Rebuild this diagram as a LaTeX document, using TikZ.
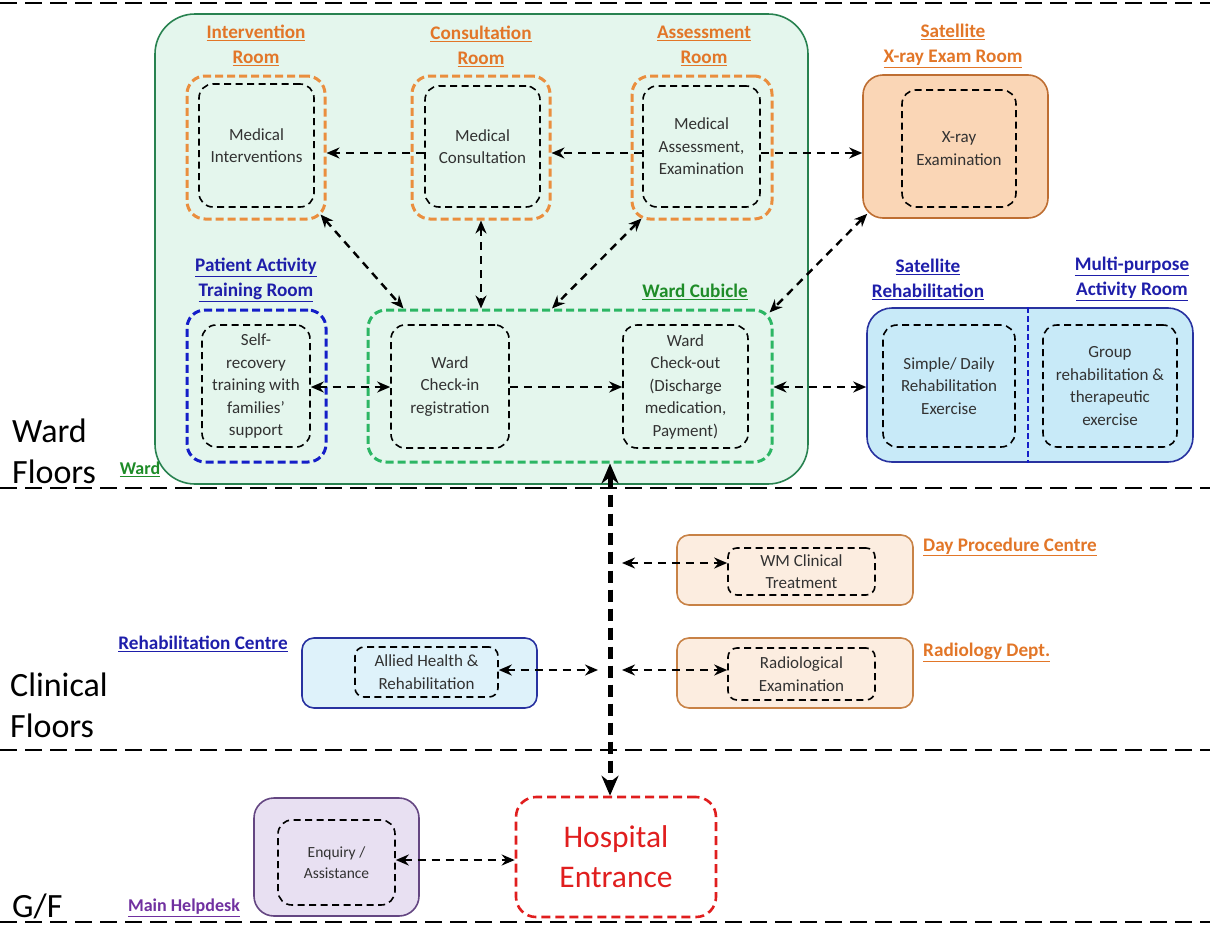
\documentclass[tikz,border=0pt]{standalone}
\usepackage{fontspec}
\setmainfont{Carlito}
\usetikzlibrary{arrows.meta}

\definecolor{roomor}{RGB}{234,142,62}
\definecolor{titleor}{RGB}{226,118,40}
\definecolor{wardfill}{RGB}{228,246,237}
\definecolor{wardline}{RGB}{40,130,80}
\definecolor{cubgreen}{RGB}{44,182,100}
\definecolor{cubtext}{RGB}{30,140,40}
\definecolor{deepblue}{RGB}{30,30,170}
\definecolor{dashblue}{RGB}{20,30,200}
\definecolor{xrayfill}{RGB}{250,214,182}
\definecolor{xrayline}{RGB}{190,110,50}
\definecolor{dayfill}{RGB}{252,237,224}
\definecolor{dayline}{RGB}{200,130,70}
\definecolor{rehabfill}{RGB}{200,234,248}
\definecolor{rehabline}{RGB}{40,50,160}
\definecolor{rcfill}{RGB}{222,242,250}
\definecolor{helpfill}{RGB}{232,224,242}
\definecolor{helpline}{RGB}{100,70,130}
\definecolor{helptext}{RGB}{112,48,160}
\definecolor{entred}{RGB}{224,30,30}
\definecolor{bodytext}{RGB}{50,50,50}

\begin{document}
\begin{tikzpicture}[x=1pt,y=-1pt,
  floorline/.style={draw=black, line width=1.6pt, dash pattern=on 17pt off 8pt},
  floorlabel/.style={font=\fontsize{34}{41}\selectfont, align=left, anchor=west, inner sep=0pt},
  innerbox/.style={draw=black, line width=1.6pt, dash pattern=on 7pt off 4.5pt,
    rounded corners=14pt, align=center, inner sep=0pt, text=bodytext,
    font=\fontsize{17}{22.5}\selectfont},
  roombox/.style={draw=roomor, line width=3pt, dash pattern=on 8pt off 4pt, rounded corners=18pt},
  title/.style={font=\bfseries\fontsize{19.2}{25}\selectfont, align=center, inner sep=0pt},
  solidbox/.style={line width=1.6pt, rounded corners=#1},
  oneway/.style={line width=2.4pt, dash pattern=on 8pt off 6pt, -{Stealth[length=13pt,width=11pt]}},
  twoway/.style={line width=2.4pt, dash pattern=on 8pt off 6pt,
    {Stealth[length=13pt,width=11pt]}-{Stealth[length=13pt,width=11pt]}},
  spine/.style={line width=5pt, dash pattern=on 12pt off 7pt,
    {Stealth[length=20pt,width=17pt]}-{Stealth[length=20pt,width=17pt]}}
]
\useasboundingbox (0,0) rectangle (1210,929);

% floor separators and floor names
\foreach \yy in {3,488,750,922} \draw[floorline] (0,\yy) -- (1210,\yy);
\node[floorlabel] (fWard) at (12,451) {Ward\\Floors};
\node[floorlabel] (fClin) at (10,705) {Clinical\\Floors};
\node[floorlabel] (fGF) at (12,906) {G/F};

% ---------------- ward floors ----------------
\node[solidbox=40pt, draw=wardline, fill=wardfill, minimum width=653, minimum height=470] (ward) at (481.5,249) {};
\node[title, text=cubtext, font=\bfseries\fontsize{18}{22}\selectfont] (wardLbl) at (140,469) {\underline{Ward}};

% rooms of the upper row
\node[roombox, minimum width=138, minimum height=143] (intRoom) at (256,147.5) {};
\node[innerbox, minimum width=115, minimum height=123] (intIn) at (256.5,145.5) {Medical\\Interventions};
\node[title, text=titleor] (intT) at (256,45) {\underline{Intervention}\\\underline{Room}};

\node[roombox, minimum width=138, minimum height=143] (conRoom) at (481,147.5) {};
\node[innerbox, minimum width=115, minimum height=121] (conIn) at (482.5,146.5) {Medical\\Consultation};
\node[title, text=titleor] (conT) at (481,46) {\underline{Consultation}\\\underline{Room}};

\node[roombox, minimum width=140, minimum height=143] (assRoom) at (702,147.5) {};
\node[innerbox, minimum width=117, minimum height=121] (assIn) at (701.5,146.5) {Medical\\Assessment,\\Examination};
\node[title, text=titleor] (assT) at (704,46) {\underline{Assessment}\\\underline{Room}};

\node[solidbox=20pt, draw=xrayline, fill=xrayfill, minimum width=185, minimum height=143] (xray) at (955.5,146.5) {};
\node[innerbox, minimum width=114, minimum height=117] (xrayIn) at (959,148.5) {X-ray\\Examination};
\node[title, text=titleor] (xrayT) at (953,46) {\underline{Satellite}\\\underline{X-ray Exam Room}};

% lower row
\node[draw=dashblue, line width=3pt, dash pattern=on 8pt off 4pt, rounded corners=18pt,
  minimum width=139, minimum height=152] (patRoom) at (256.5,386) {};
\node[innerbox, minimum width=108, minimum height=122] (patIn) at (256,386) {Self-\\recovery\\training with\\families’\\support};
\node[title, text=deepblue] (patT) at (256,280) {\underline{Patient Activity}\\\underline{Training Room}};

\node[draw=cubgreen, line width=3pt, dash pattern=on 8pt off 4pt, rounded corners=18pt,
  minimum width=404, minimum height=152] (cubicle) at (570,386) {};
\node[innerbox, minimum width=118, minimum height=123] (checkIn) at (450,386.5) {Ward\\Check-in\\registration};
\node[innerbox, minimum width=125, minimum height=123] (checkOut) at (685.5,386.5) {Ward\\Check-out\\(Discharge\\medication,\\Payment)};
\node[title, text=cubtext] (cubT) at (695,292) {\underline{Ward Cubicle}};

% satellite rehabilitation / multi-purpose room
\node[solidbox=25pt, draw=rehabline, fill=rehabfill, minimum width=326, minimum height=154] (satReh) at (1030,385) {};
\draw[draw=dashblue, line width=2pt, dash pattern=on 6pt off 3pt] (satReh.north -| 1028,0) -- (satReh.south -| 1028,0);
\node[innerbox, minimum width=132, minimum height=122] (srIn) at (949,386) {Simple/ Daily\\Rehabilitation\\Exercise};
\node[innerbox, minimum width=134, minimum height=122] (mpIn) at (1110,386) {Group\\rehabilitation \&\\therapeutic\\exercise};
\node[title, text=deepblue] (srT) at (928,279) {\underline{Satellite}\\\underline{Rehabilitation}};
\node[title, text=deepblue] (mpT) at (1132,279) {\underline{Multi-purpose}\\\underline{Activity Room}};

% ---------------- clinical floors ----------------
\node[solidbox=12pt, draw=dayline, fill=dayfill, minimum width=236, minimum height=70] (dayBox) at (795,570) {};
\node[innerbox, rounded corners=9pt, minimum width=147, minimum height=47] (dayIn) at (801.5,571.5) {WM Clinical\\Treatment};
\node[title, text=titleor, anchor=west] (dayT) at (923,547) {\underline{Day Procedure Centre}};

\node[solidbox=12pt, draw=dayline, fill=dayfill, minimum width=236, minimum height=70] (radBox) at (795,673) {};
\node[innerbox, rounded corners=9pt, minimum width=147, minimum height=52] (radIn) at (801.5,674) {Radiological\\Examination};
\node[title, text=titleor, anchor=west] (radT) at (923,652) {\underline{Radiology Dept.}};

\node[solidbox=12pt, draw=rehabline, fill=rcfill, minimum width=235, minimum height=70] (rcBox) at (419.5,673) {};
\node[innerbox, rounded corners=9pt, minimum width=143, minimum height=50] (rcIn) at (426.5,672) {Allied Health \&\\Rehabilitation};
\node[title, text=deepblue] (rcT) at (203,644) {\underline{Rehabilitation Centre}};

% ---------------- ground floor ----------------
\node[solidbox=20pt, draw=helpline, fill=helpfill, minimum width=165, minimum height=118] (helpBox) at (336.5,857) {};
\node[innerbox, font=\fontsize{15.5}{21.5}\selectfont, minimum width=117, minimum height=85] (helpIn) at (336.5,862.5) {Enquiry /\\Assistance};
\node[title, text=helptext, font=\bfseries\fontsize{18}{22}\selectfont] (helpT) at (184,908) {\underline{Main Helpdesk}};

\node[draw=entred, line width=2.6pt, dash pattern=on 9pt off 5pt, rounded corners=20pt,
  minimum width=200, minimum height=120, align=center, text=entred,
  font=\fontsize{31.5}{40}\selectfont] (entrance) at (616,857) {Hospital\\Entrance};

% ---------------- connectors ----------------
\coordinate (rowA) at (0,153);
\coordinate (rowB) at (0,387);
\coordinate (sp) at (610,0);
\coordinate (rowDay) at (0,563);
\coordinate (rowRad) at (0,670);
\coordinate (rowHelp) at (0,860);

\draw[oneway] (conIn.west |- rowA) -- (intRoom.east |- rowA);
\draw[oneway] (assIn.west |- rowA) -- (conRoom.east |- rowA);
\draw[oneway] (assIn.east |- rowA) -- (xray.west |- rowA);

\draw[twoway] ([shift={(-6,-6)}]intRoom.south east) -- ([shift={(37,0)}]cubicle.north west);
\draw[twoway] (conRoom.south) -- (cubicle.north -| conRoom.south);
\draw[twoway] ([shift={(11,-2)}]assRoom.south west) -- ([shift={(-18,0)}]cubicle.north);
\draw[twoway] ([shift={(5,-5)}]xray.south west) -- ([shift={(-4,4)}]cubicle.north east);

\draw[twoway] (patIn.east |- rowB) -- (checkIn.west |- rowB);
\draw[oneway] (checkIn.east |- rowB) -- (checkOut.west |- rowB);
\draw[twoway] (cubicle.east |- rowB) -- (satReh.west |- rowB);

\draw[spine] (cubicle.south -| sp) -- (entrance.north -| sp);

\coordinate (jDay) at ([xshift=12pt]sp |- rowDay);
\coordinate (jRad) at ([xshift=12pt]sp |- rowRad);
\coordinate (jRc) at ([xshift=-12pt]sp |- rowRad);
\draw[twoway] (jDay) -- (dayIn.west |- rowDay);
\draw[twoway] (jRad) -- (radIn.west |- rowRad);
\draw[twoway] (rcIn.east |- rowRad) -- (jRc);

\draw[twoway] (helpIn.east |- rowHelp) -- (entrance.west |- rowHelp);
\end{tikzpicture}
\end{document}
